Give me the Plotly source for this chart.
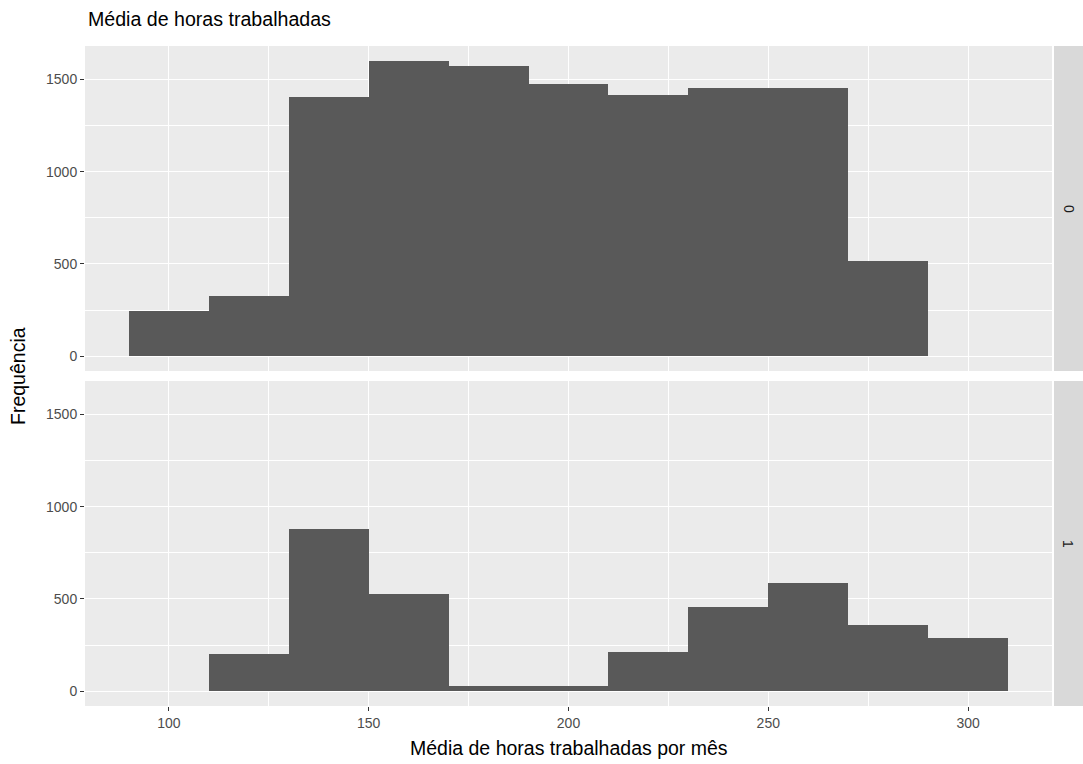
import plotly.graph_objects as go

# Data (binwidth 20, bins centred at 100..300)
bin_centers = [100, 120, 140, 160, 180, 200, 220, 240, 260, 280, 300]
counts_0 = [245, 324, 1404, 1601, 1571, 1475, 1413, 1453, 1453, 515, 0]
counts_1 = [0, 204, 877, 528, 30, 30, 211, 454, 589, 360, 290]
facet_labels = ["0", "1"]
x_ticks = [100, 150, 200, 250, 300]
y_ticks = [0, 500, 1000, 1500]

BAR = "#595959"
PANEL = "#EBEBEB"
STRIP = "#D9D9D9"
FONT = "Liberation Sans, Arial, sans-serif"
TICK_SIZE = 14
AXIS_TITLE_SIZE = 19.5
TITLE_SIZE = 19.6

fig = go.Figure()
fig.add_trace(go.Bar(x=bin_centers, y=counts_0, width=20, marker=dict(color=BAR, line=dict(width=0)),
                     xaxis="x", yaxis="y", showlegend=False))
fig.add_trace(go.Bar(x=bin_centers, y=counts_1, width=20, marker=dict(color=BAR, line=dict(width=0)),
                     xaxis="x2", yaxis="y2", showlegend=False))

xr = [79, 321]
yr = [-80.05, 1681.05]
common_x = dict(range=xr, showgrid=True, gridcolor="white", gridwidth=1.1,
                tickvals=x_ticks, zeroline=False, showline=False,
                minor=dict(tickvals=[125, 175, 225, 275], showgrid=True, gridcolor="white", gridwidth=0.55, ticks=""))
common_y = dict(range=yr, showgrid=True, gridcolor="white", gridwidth=1.1,
                tickvals=y_ticks, zeroline=False, showline=False,
                ticks="outside", ticklen=4, tickcolor="#333333", tickwidth=1,
                tickfont=dict(family=FONT, size=TICK_SIZE, color="#4D4D4D"),
                minor=dict(tickvals=[250, 750, 1250], showgrid=True, gridcolor="white", gridwidth=0.55, ticks=""))

fig.update_layout(
    width=1083, height=764,
    margin=dict(l=85, r=31, t=46, b=58),
    paper_bgcolor="white", plot_bgcolor=PANEL,
    bargap=0,
    font=dict(family=FONT, color="#000000"),
    xaxis=dict(**common_x, anchor="y", matches="x2", showticklabels=False, ticks=""),
    xaxis2=dict(**common_x, anchor="y2", ticks="outside", ticklen=4, tickcolor="#333333", tickwidth=1,
                tickfont=dict(family=FONT, size=TICK_SIZE, color="#4D4D4D")),
    yaxis=dict(**common_y, domain=[0.5076, 1], anchor="x"),
    yaxis2=dict(**common_y, domain=[0, 0.4924], anchor="x2"),
)

annotations = [
    dict(text="Média de horas trabalhadas", xref="paper", yref="paper", x=0, y=1,
         xanchor="left", yanchor="middle", xshift=1, yshift=27, showarrow=False,
         font=dict(family=FONT, size=TITLE_SIZE, color="#000000")),
    dict(text="Média de horas trabalhadas por mês", xref="paper", yref="paper", x=0.5, y=0,
         xanchor="center", yanchor="middle", yshift=-42, showarrow=False,
         font=dict(family=FONT, size=AXIS_TITLE_SIZE, color="#000000")),
    dict(text="Frequência", xref="paper", yref="paper", x=0, y=0.5, textangle=-90,
         xanchor="center", yanchor="middle", xshift=-67, showarrow=False,
         font=dict(family=FONT, size=AXIS_TITLE_SIZE, color="#000000")),
]

shapes = []
doms = [[0.5076, 1], [0, 0.4924]]
pw = 1083 - 85 - 31
for lab, d in zip(facet_labels, doms):
    shapes.append(dict(type="rect", xref="paper", yref="paper",
                       x0=1 + 2 / pw, x1=1 + 31 / pw, y0=d[0], y1=d[1],
                       fillcolor=STRIP, line=dict(width=0), layer="below"))
    annotations.append(dict(text=lab, xref="paper", yref="paper", x=1 + 16.5 / pw, y=(d[0] + d[1]) / 2,
                            xanchor="center", yanchor="middle", textangle=90, showarrow=False,
                            font=dict(family=FONT, size=TICK_SIZE, color="#1A1A1A")))

fig.update_layout(annotations=annotations, shapes=shapes)
fig.write_html("out.html", config={"displayModeBar": False},
               post_script="document.body.style.margin='0';document.body.style.overflow='hidden';")
